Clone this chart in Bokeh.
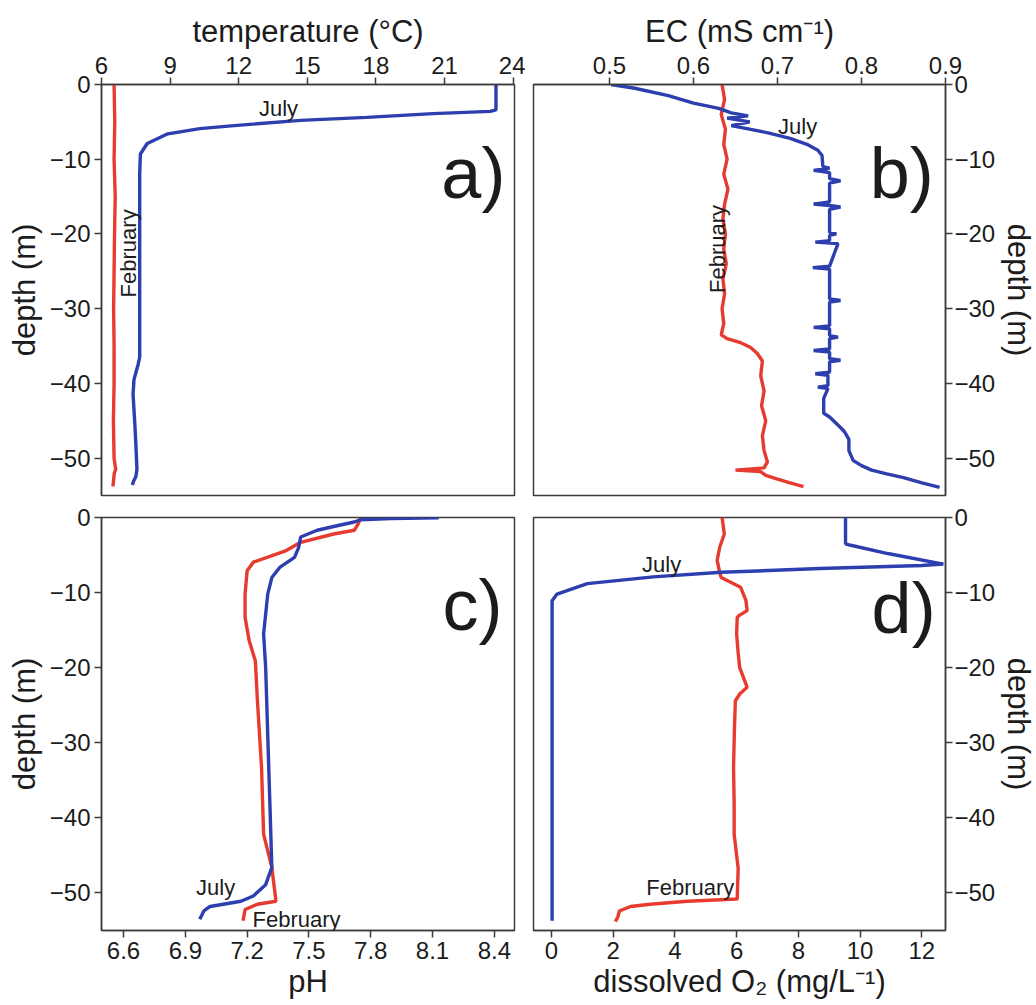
from math import pi
from bokeh.plotting import figure
from bokeh.layouts import column, row
from bokeh.models import FixedTicker, Label, Range1d
from bokeh.embed import file_html
from bokeh.resources import INLINE

FONT = "Liberation Sans"
BLUE = "#2d3fae"
RED = "#e63b2e"
AX = "#3c3c3c"
TXT = "#1c1c1c"

# ---------------- ticks ----------------
depth_ticks = [0, -10, -20, -30, -40, -50]
temp_ticks = [6, 9, 12, 15, 18, 21, 24]
ec_ticks = [0.5, 0.6, 0.7, 0.8, 0.9]
ph_ticks = [6.6, 6.9, 7.2, 7.5, 7.8, 8.1, 8.4]
do_ticks = [0, 2, 4, 6, 8, 10, 12]

# ---------------- a) temperature ----------------
temp_feb_depth = [0, -5, -10, -15, -20, -25, -30, -35, -40, -45, -50, -51.5, -52, -53.8]
temp_feb = [6.55, 6.58, 6.55, 6.6, 6.57, 6.55, 6.53, 6.55, 6.55, 6.52, 6.55, 6.62, 6.56, 6.5]
temp_jul_depth = [0, -3.4, -3.6, -3.9, -4.4, -4.8, -5.5, -5.9, -6.6, -7.9, -9.3, -12, -20, -30,
                  -36.5, -37.5, -39.5, -41.5, -45, -48, -51.5, -52.5, -53.1, -53.6]
temp_jul = [23.25, 23.25, 23.0, 20.5, 17.6, 14.7, 11.8, 10.3, 8.9, 8.0, 7.7, 7.67, 7.67, 7.67,
            7.67, 7.6, 7.42, 7.38, 7.45, 7.5, 7.55, 7.5, 7.4, 7.35]

# ---------------- b) EC ----------------
ec_jul_depth = [0, -0.5, -1.5, -2.5, -3.2, -3.8, -4.2, -4.5, -5.0, -5.5, -6.0, -6.5, -7.2, -8.0,
                -8.8, -9.5, -11.0, -11.2, -11.5, -11.8, -12.6, -12.9, -13.2, -15.7, -16.0, -16.2,
                -16.4, -16.7, -19.8, -20.0, -20.2, -20.9, -21.1, -21.3, -24.3, -24.5, -24.7,
                -28.7, -28.9, -29.1, -32.3, -32.5, -32.7, -33.6, -33.8, -34.0, -35.4, -35.6,
                -35.8, -36.7, -36.9, -37.1, -38.5, -38.7, -38.9, -40.3, -40.5, -40.7, -42.0,
                -44.0, -44.5, -45.9, -46.5, -47.5, -49.0, -50.3, -51.0, -51.6, -52.1, -52.6,
                -53.3, -53.9]
ec_jul = [0.502, 0.53, 0.57, 0.60, 0.63, 0.645, 0.665, 0.64, 0.667, 0.645, 0.668, 0.69, 0.715, 0.735,
          0.748, 0.753, 0.754, 0.762, 0.743, 0.762, 0.762, 0.775, 0.762, 0.762, 0.743, 0.762,
          0.775, 0.762, 0.762, 0.770, 0.762, 0.762, 0.745, 0.772, 0.762, 0.742, 0.762,
          0.762, 0.775, 0.762, 0.762, 0.743, 0.762, 0.762, 0.772, 0.762, 0.762, 0.743,
          0.762, 0.762, 0.775, 0.762, 0.762, 0.745, 0.760, 0.760, 0.748, 0.760, 0.755,
          0.755, 0.762, 0.775, 0.780, 0.785, 0.785, 0.790, 0.800, 0.812, 0.830, 0.850,
          0.872, 0.893]
ec_feb_depth = [0, -2, -4, -6, -8, -10, -12, -14, -16, -18, -20, -22, -24, -26, -28, -30, -32,
                -33.5, -34.0, -34.5, -35.2, -36.0, -37, -39, -41, -43, -45, -47, -49, -50.5,
                -51.3, -51.6, -51.8, -52.3, -52.8, -53.3, -53.8]
ec_feb = [0.634, 0.637, 0.633, 0.638, 0.636, 0.640, 0.636, 0.641, 0.637, 0.635, 0.638, 0.636,
          0.639, 0.635, 0.637, 0.634, 0.636, 0.633, 0.640, 0.655, 0.668, 0.676, 0.682, 0.680,
          0.684, 0.681, 0.686, 0.682, 0.684, 0.688, 0.684, 0.650, 0.680, 0.686, 0.700, 0.715,
          0.731]

# ---------------- c) pH ----------------
ph_jul_depth = [-0.05, -0.15, -0.3, -0.6, -1.2, -1.7, -2.6, -4.0, -5.3, -6.6, -8.0, -10.2, -15.5,
                -20, -28.9, -37.7, -46.6, -48.9, -50.4, -51.1, -51.8, -52.4, -53.5]
ph_jul = [8.13, 7.9, 7.75, 7.72, 7.62, 7.54, 7.46, 7.45, 7.43, 7.36, 7.32, 7.30, 7.28,
          7.29, 7.30, 7.31, 7.32, 7.29, 7.23, 7.17, 7.02, 6.99, 6.97]
ph_feb_depth = [-0.05, -0.8, -1.7, -2.2, -3.3, -4.4, -5.95, -7.1, -10.2, -13.3, -16.4, -19.1,
                -24.4, -33.3, -42.2, -46.6, -51.1, -51.5, -52.2, -53.7]
ph_feb = [7.75, 7.74, 7.72, 7.62, 7.46, 7.39, 7.23, 7.20, 7.19, 7.19, 7.21, 7.24,
          7.25, 7.27, 7.28, 7.32, 7.34, 7.25, 7.19, 7.18]

# ---------------- d) dissolved O2 ----------------
do_jul_depth = [0, -3.5, -3.7, -4.8, -6.2, -6.4, -6.8, -7.3, -7.9, -8.8, -10.2, -11.1, -53.7]
do_jul = [9.53, 9.53, 9.7, 10.9, 12.7, 12.0, 8.7, 5.5, 3.3, 1.16, 0.18, 0.02, 0.02]
do_feb_depth = [0, -2.2, -4, -5.7, -7.3, -8.0, -9.3, -11, -12.4, -13.0, -13.3, -15.5, -18, -20,
                -22.6, -23.5, -24.4, -28, -33.3, -38, -42.2, -46.7, -50.8, -51.1, -51.5, -51.8,
                -52.4, -53.2, -53.8]
do_feb = [5.53, 5.6, 5.45, 5.37, 5.45, 5.5, 6.13, 6.3, 6.34, 6.1, 6.02, 6.0, 6.05, 6.1,
          6.34, 6.1, 5.96, 5.93, 5.9, 5.92, 5.92, 6.05, 6.02, 4.4, 3.2, 2.56, 2.2, 2.15, 2.07]


def make_fig(xr, xticks, xlabel, xloc, yloc, bl, br, bt, bb, fw, fh):
    p = figure(frame_width=fw, frame_height=fh, x_range=Range1d(*xr), y_range=Range1d(-55, 0),
               x_axis_location=xloc, y_axis_location=yloc, output_backend="svg",
               toolbar_location=None, tools="", min_border_left=bl, min_border_right=br,
               min_border_top=bt, min_border_bottom=bb, background_fill_color="white",
               border_fill_color="white")
    p.grid.visible = False
    p.outline_line_color = AX
    p.outline_line_width = 1.5
    p.xaxis.ticker = FixedTicker(ticks=xticks)
    p.yaxis.ticker = FixedTicker(ticks=depth_ticks)
    p.xaxis.axis_label = xlabel
    p.yaxis.axis_label = "depth (m)"
    for ax in p.axis:
        ax.axis_line_color = AX
        ax.axis_line_width = 1.5
        ax.major_tick_line_color = AX
        ax.major_tick_line_width = 1.5
        ax.major_tick_in = 0
        ax.major_tick_out = 7
        ax.minor_tick_line_color = None
        ax.major_label_text_font = FONT
        ax.major_label_text_font_size = "24px"
        ax.major_label_text_color = TXT
        ax.major_label_standoff = 4
        ax.axis_label_text_font = FONT
        ax.axis_label_text_font_size = "31px"
        ax.axis_label_text_font_style = "normal"
        ax.axis_label_text_color = TXT
        ax.axis_label_standoff = 5
    if yloc == "right":
        p.yaxis.major_label_standoff = 2
        p.yaxis.axis_label_standoff = 3
    if xloc == "below":
        p.xaxis.axis_label_standoff = 2
    return p


def add_text(p, x, y, text, size="22px", align="center", angle=0.0, baseline="alphabetic"):
    p.add_layout(Label(x=x, y=y, text=text, text_font=FONT, text_font_size=size,
                       text_color=TXT, text_align=align, text_baseline=baseline, angle=angle))


LW = 3.4

# a)
pa = make_fig((6.0, 24.06), temp_ticks, "temperature (°C)", "above", "left", 101, 11, 84, 10, 413, 411)
pa.line(temp_feb, temp_feb_depth, color=RED, line_width=LW)
pa.line(temp_jul, temp_jul_depth, color=BLUE, line_width=LW)
add_text(pa, 13.74, -3.2, "July")
add_text(pa, 7.18, -22.6, "February", angle=pi / 2, baseline="middle")
add_text(pa, 23.66, -11.9, "a)", size="72px", align="right")

# b)
pb = make_fig((0.4095, 0.90), ec_ticks, "EC (mS cm⁻¹)", "above", "right", 8, 88, 84, 10, 412, 411)
pb.line(ec_feb, ec_feb_depth, color=RED, line_width=LW)
pb.line(ec_jul, ec_jul_depth, color=BLUE, line_width=LW)
add_text(pb, 0.724, -5.6, "July")
add_text(pb, 0.6286, -22.0, "February", angle=pi / 2, baseline="middle")
add_text(pb, 0.886, -11.9, "b)", size="72px", align="right")

# c)
pc = make_fig((6.493, 8.498), ph_ticks, "pH", "below", "left", 101, 11, 12, 70, 413, 413)
pc.line(ph_feb, ph_feb_depth, color=RED, line_width=LW)
pc.line(ph_jul, ph_jul_depth, color=BLUE, line_width=LW)
add_text(pc, 7.047, -49.3, "July")
add_text(pc, 7.226, -53.5, "February", align="left")
add_text(pc, 8.44, -11.7, "c)", size="72px", align="right")

# d)
pd_ = make_fig((-0.583, 12.77), do_ticks, "dissolved O₂ (mg/L⁻¹)", "below", "right", 8, 88, 12, 70, 412, 413)
pd_.line(do_feb, do_feb_depth, color=RED, line_width=LW)
pd_.line(do_jul, do_jul_depth, color=BLUE, line_width=LW)
add_text(pd_, 3.57, -6.3, "July")
add_text(pd_, 4.5, -49.3, "February")
add_text(pd_, 12.45, -12.1, "d)", size="72px", align="right")

layout = column(row(pa, pb), row(pc, pd_))
open("out.html", "w").write(file_html(layout, INLINE))
